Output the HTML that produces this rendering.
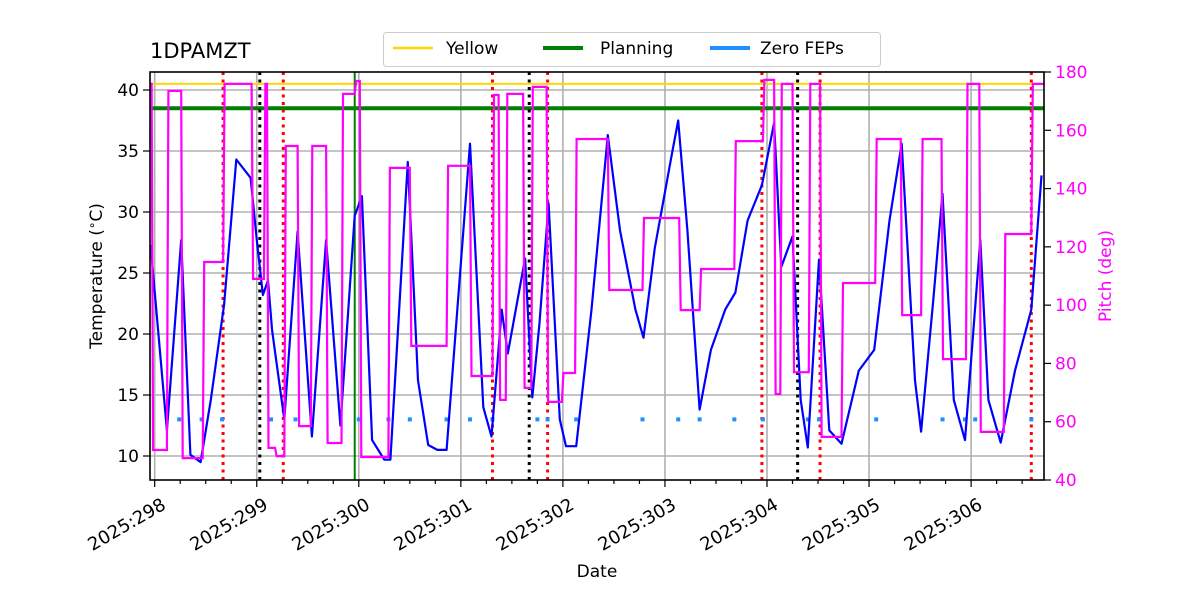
<!DOCTYPE html>
<html><head><meta charset="utf-8"><style>
body{margin:0;background:#fff}
svg{display:block;font-family:"DejaVu Sans","Liberation Sans",sans-serif}
</style></head><body>
<svg id="chart" width="1200" height="600" xmlns="http://www.w3.org/2000/svg"></svg>
<script>
const tempDays=[297.96,298.12,298.26,298.35,298.45,298.55,298.68,298.80,298.94,299.00,299.06,299.11,299.15,299.27,299.40,299.54,299.68,299.82,299.96,300.03,300.13,300.25,300.31,300.48,300.58,300.68,300.77,300.86,301.09,301.22,301.30,301.40,301.46,301.63,301.70,301.77,301.86,301.97,302.03,302.13,302.28,302.44,302.56,302.71,302.79,302.90,303.06,303.13,303.22,303.34,303.45,303.59,303.69,303.81,303.95,304.07,304.14,304.25,304.33,304.40,304.51,304.61,304.73,304.90,305.05,305.20,305.32,305.45,305.51,305.63,305.72,305.83,305.94,306.09,306.17,306.29,306.43,306.59,306.69];
const tempVals=[27.3,12.1,27.7,10.1,9.5,14.6,22.4,34.3,32.8,27.7,23.2,24.4,20.3,13.0,28.4,11.6,27.7,12.5,29.7,31.3,11.3,9.7,9.7,34.1,16.2,10.9,10.5,10.5,35.6,14.0,11.6,22.0,18.4,26.2,14.8,20.8,30.7,13.0,10.8,10.8,22.0,36.3,28.5,22.0,19.7,27.0,34.4,37.5,28.5,13.8,18.7,22.0,23.4,29.3,32.2,37.3,25.5,28.0,14.6,10.7,26.1,12.1,11.0,17.0,18.7,29.3,35.6,16.2,12.0,22.8,31.5,14.6,11.3,27.7,14.6,11.1,17.0,22.0,33.0];
const pitchDays=[297.96,297.97,298.12,298.26,298.47,298.67,298.95,299.07,299.10,299.18,299.27,299.40,299.53,299.68,299.83,299.96,300.01,300.29,300.50,300.86,301.09,301.31,301.37,301.44,301.61,301.69,301.84,301.99,302.12,302.44,302.78,303.14,303.34,303.68,303.96,304.07,304.13,304.25,304.41,304.52,304.73,305.06,305.31,305.51,305.71,305.95,306.08,306.32,306.59];
const pitchVals=[176,50.3,173.5,47.5,114.8,175.9,109,175.9,51,48.2,154.6,58.5,154.6,52.7,172.5,176.9,47.9,147.1,86,147.8,75.7,172.1,67.5,172.5,71.6,174.9,66.8,76.7,157,105.2,129.9,98.3,112.4,156.3,177.3,69.5,175.9,77,175.9,54.8,107.6,157,96.6,157,81.5,175.9,56.5,124.4,175.9];
const redLines=[298.67,299.26,301.31,301.85,303.95,304.52,306.59];
const blackLines=[299.03,301.67,304.30];
const greenVLines=[299.96];
const yellowLimit=[40.5];
const planningLimit=[38.5];
const fepDays=[298.24,298.46,298.66,299.14,299.38,300.00,300.29,300.50,300.86,301.09,301.31,301.75,301.85,302.13,302.78,303.13,303.34,303.68,303.96,304.40,304.51,305.07,305.72,305.94,306.04,306.59];
const fepVal=[13.0];
const xTicks=[298,299,300,301,302,303,304,305,306];
const yTicks=[10,15,20,25,30,35,40];
const pTicks=[40,60,80,100,120,140,160,180];

const L=150,R=1044,T=72,B=480;
const X=d=>154.7+(d-298)*102.05;
const Y=v=>456-(v-10)*12.2;
const P=v=>480-(v-40)*(408/140);
const svg=document.getElementById('chart');
const NS='http://www.w3.org/2000/svg';
function mk(tag,attrs,parent){const e=document.createElementNS(NS,tag);for(const k in attrs)e.setAttribute(k,attrs[k]);(parent||svg).appendChild(e);return e;}

const grid=mk('g',{});


xTicks.forEach(d=>mk('line',{x1:X(d),x2:X(d),y1:T,y2:B,stroke:'#b0b0b0','stroke-width':1.6},grid));
yTicks.forEach(v=>mk('line',{x1:L,x2:R,y1:Y(v),y2:Y(v),stroke:'#b0b0b0','stroke-width':1.6},grid));

const yl=mk('line',{x1:L,x2:R,y1:Y(yellowLimit[0]),y2:Y(yellowLimit[0]),stroke:'#ffd700','stroke-width':2});


const pl=mk('line',{x1:L,x2:R,y1:Y(planningLimit[0]),y2:Y(planningLimit[0]),stroke:'#008000','stroke-width':4});



redLines.forEach(d=>{const e=mk('line',{x1:X(d),x2:X(d),y1:T,y2:B,stroke:'#ff0000','stroke-width':3,'stroke-dasharray':'3,4.5'});

});
blackLines.forEach(d=>{const e=mk('line',{x1:X(d),x2:X(d),y1:T,y2:B,stroke:'#000','stroke-width':3,'stroke-dasharray':'3,4.5'});

});
greenVLines.forEach(d=>{const e=mk('line',{x1:X(d),x2:X(d),y1:T,y2:B,stroke:'#008000','stroke-width':2});

});

fepDays.forEach(d=>{const e=mk('rect',{x:X(d)-2,y:Y(fepVal[0])-2,width:4,height:4,fill:'#1e90ff'});

});

let td=tempDays.map((d,i)=>(i?'L':'M')+X(d).toFixed(1)+','+Y(tempVals[i]).toFixed(1)).join('');
const tl=mk('path',{d:td,fill:'none',stroke:'#0000ff','stroke-width':2.2,'stroke-linejoin':'round'});



let pd='';
pitchDays.forEach((d,i)=>{if(i===0)pd+='M'+X(d)+','+P(pitchVals[i]);else pd+='L'+X(d).toFixed(1)+','+P(pitchVals[i-1]).toFixed(1)+'L'+(X(d)+1.5).toFixed(1)+','+P(pitchVals[i]).toFixed(1);});
pd+='L'+R+','+P(pitchVals[pitchVals.length-1]).toFixed(1);
const pth=mk('path',{d:pd,fill:'none',stroke:'#ff00ff','stroke-width':2.2});



const fr=mk('rect',{x:L,y:T,width:R-L,height:B-T,fill:'none',stroke:'#000','stroke-width':1.6});



for(let d=298;d<=306.7;d+=0.25){const major=Math.abs(d-Math.round(d))<0.01;if(X(d)<L||X(d)>R)continue;mk('line',{x1:X(d),x2:X(d),y1:B,y2:B+(major?7:4),stroke:'#000','stroke-width':1.2});}
xTicks.forEach(d=>{const t=mk('text',{x:X(d)+6,y:B+17,'font-size':18,'text-anchor':'end',transform:`rotate(-30 ${X(d)+6} ${B+17})`,'dominant-baseline':'hanging'});t.textContent='2025:'+d;

});
yTicks.forEach(v=>{mk('line',{x1:L-7,x2:L,y1:Y(v),y2:Y(v),stroke:'#000','stroke-width':1.2});const t=mk('text',{x:L-11,y:Y(v)+6,'font-size':17,'text-anchor':'end'});t.textContent=v;

});
pTicks.forEach(v=>{mk('line',{x1:R,x2:R+7,y1:P(v),y2:P(v),stroke:'#000','stroke-width':1.2});const t=mk('text',{x:R+11,y:P(v)+6,'font-size':17,fill:'#ff00ff'});t.textContent=v;

});
</script>
<svg style="position:absolute;left:0;top:0" width="1200" height="600" xmlns="http://www.w3.org/2000/svg">
<text x="150" y="58" font-size="21">1DPAMZT</text>
<text x="597" y="577" font-size="17" text-anchor="middle">Date</text>
<text transform="translate(102 276) rotate(-90)" font-size="17" text-anchor="middle">Temperature (<tspan font-size="12" dy="-6">∘</tspan><tspan dy="6">C)</tspan></text>
<text transform="translate(1111 276) rotate(-90)" font-size="17" text-anchor="middle" fill="#ff00ff">Pitch (deg)</text>
<g>
<rect x="383.5" y="32.5" width="497" height="34" rx="3" fill="#fff" fill-opacity="0.8" stroke="#ccc"/>
<line x1="393" x2="433" y1="48" y2="48" stroke="#ffd700" stroke-width="2.5"/>
<text x="446" y="54" font-size="17">Yellow</text>
<line x1="543" x2="583" y1="48" y2="48" stroke="#008000" stroke-width="4"/>
<text x="600" y="54" font-size="17">Planning</text>
<line x1="710" x2="750" y1="48" y2="48" stroke="#1e90ff" stroke-width="4"/>
<text x="760" y="54" font-size="17">Zero FEPs</text>
</g>
</svg>
</body></html>
